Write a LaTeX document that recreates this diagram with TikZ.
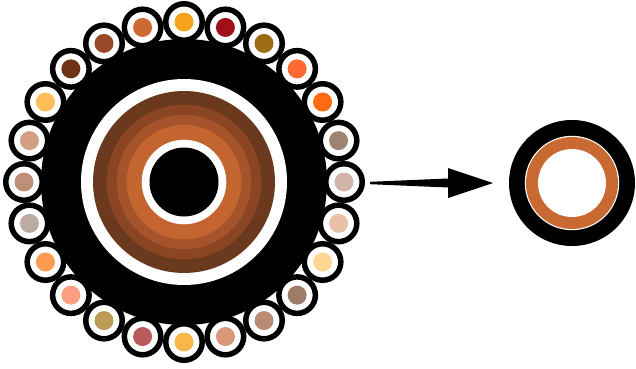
\documentclass[tikz,border=0pt]{standalone}
\usepackage{tikz}
\usetikzlibrary{calc}
\definecolor{brownA}{HTML}{6B3A1E}
\definecolor{brownB}{HTML}{8B4523}
\definecolor{brownC}{HTML}{A5532B}
\definecolor{brownD}{HTML}{C4652F}
\definecolor{coreorange}{HTML}{C96A32}
\definecolor{wireA}{HTML}{F5A31A}
\definecolor{wireB}{HTML}{A0101A}
\definecolor{wireC}{HTML}{9C6B12}
\definecolor{wireD}{HTML}{FF6A30}
\definecolor{wireE}{HTML}{FF6A10}
\definecolor{wireF}{HTML}{9E8272}
\definecolor{wireG}{HTML}{D2B5A8}
\definecolor{wireH}{HTML}{E8C0A8}
\definecolor{wireI}{HTML}{FFD592}
\definecolor{wireJ}{HTML}{9C7B68}
\definecolor{wireK}{HTML}{B88B72}
\definecolor{wireL}{HTML}{D9967A}
\definecolor{wireM}{HTML}{F9B74A}
\definecolor{wireN}{HTML}{B85A5A}
\definecolor{wireO}{HTML}{BC9A55}
\definecolor{wireP}{HTML}{FF9E80}
\definecolor{wireQ}{HTML}{FF9A4F}
\definecolor{wireR}{HTML}{BDAAA0}
\definecolor{wireS}{HTML}{BE8F78}
\definecolor{wireT}{HTML}{D49E82}
\definecolor{wireU}{HTML}{FFBE5A}
\definecolor{wireV}{HTML}{6E3317}
\definecolor{wireW}{HTML}{9A4A28}
\definecolor{wireX}{HTML}{CC6A32}

\begin{document}
\begin{tikzpicture}[x=1pt,y=1pt,
  strand/.style={draw=black, line width=5.5pt, fill=white}]
\useasboundingbox (0,0) rectangle (636,368);
\coordinate (big) at (184,186);
\coordinate (small) at (572,185);
% outer sheath and strands
\fill[black] (big) circle (143);
\foreach \ang/\col in {90/wireA,75/wireB,60/wireC,45/wireD,30/wireE,15/wireF,
  0/wireG,-15/wireH,-30/wireI,-45/wireJ,-60/wireK,-75/wireL,-90/wireM,
  -105/wireN,-120/wireO,-135/wireP,-150/wireQ,-165/wireR,180/wireS,
  165/wireT,150/wireU,135/wireV,120/wireW,105/wireX}{
  \draw[strand] ($(big)+(\ang:160)$) circle (18.25);
  \fill[\col] ($(big)+(\ang:160)$) circle (9.5);
}
% layers
\fill[white] (big) circle (103);
\fill[brownA] (big) circle (91);
\fill[brownB] (big) circle (77.3);
\fill[brownC] (big) circle (67.3);
\fill[brownD] (big) circle (57.3);
\fill[white] (big) circle (42.3);
\fill[black] (big) circle (34.5);
% arrow
\coordinate (tail) at ($(big)+(186,-1)$);
\coordinate (tip) at ($(small)+(-79,0)$);
\fill[black] ($(tail)+(0,1.2)$) -- ($(tip)+(-45,4.5)$) -- ($(tip)+(-45,15)$) -- (tip)
  -- ($(tip)+(-45,-15)$) -- ($(tip)+(-45,-4.5)$) -- ($(tail)+(0,-1.2)$) -- cycle;
% small cable
\fill[black] (small) circle (63);
\fill[white] (small) circle (47.2);
\fill[coreorange] (small) circle (46);
\fill[white] (small) circle (34);
\end{tikzpicture}
\end{document}
